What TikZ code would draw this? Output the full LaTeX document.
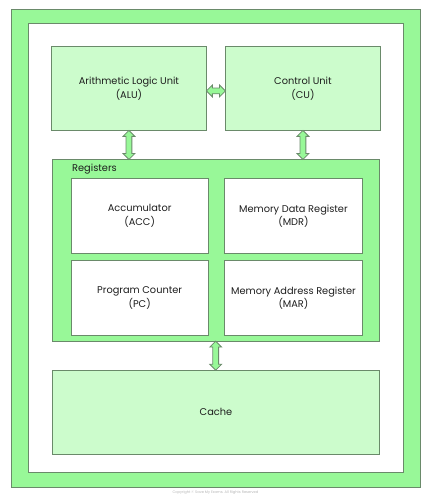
\documentclass[tikz,border=0pt]{standalone}
\usepackage{fontspec}
\setmainfont{Poppins}
\usetikzlibrary{shapes.arrows,calc}
\definecolor{outergreen}{HTML}{98F898}
\definecolor{boxgreen}{HTML}{CCFCCC}
\definecolor{edgec}{HTML}{6A8A6A}
\definecolor{txt}{HTML}{1E1E1E}
\definecolor{wmark}{HTML}{E8ECF2}
\definecolor{copyc}{HTML}{B8B8B8}
\begin{document}
\begin{tikzpicture}[x=1pt,y=-1pt,
  frame/.style={draw=edgec, line width=0.9pt, rectangle, inner sep=0pt, anchor=north west},
  unitbox/.style={frame, fill=boxgreen, text=txt, align=center, font=\fontsize{9.8}{14}\selectfont},
  regbox/.style={frame, fill=white, text=txt, align=center, font=\fontsize{9.8}{13.4}\selectfont},
  dblarrow/.style={double arrow, draw=edgec, fill=outergreen, line width=0.8pt, inner sep=2.5pt,
    minimum width=11pt, double arrow head extend=3pt, double arrow head indent=0pt},
  label/.style={text=txt, font=\fontsize{9.8}{13.4}\selectfont, inner sep=0pt}
]
\useasboundingbox (0,0) rectangle (431,500);
\fill[white] (0,0) rectangle (431,500);

\node[frame, fill=outergreen, minimum width=409pt, minimum height=478pt] (outer) at (11,9) {};
\node[frame, fill=white, minimum width=375pt, minimum height=449pt] (inner) at (28,23) {};

% watermark
\node[text=wmark, font=\fontsize{26}{24}\selectfont, align=left, inner sep=0pt] (wm) at (242,250) {SaveMy\\Exams};

\node[unitbox, minimum width=155pt, minimum height=84pt] (alu) at (51,46) {Arithmetic Logic Unit\\(ALU)};
\node[unitbox, minimum width=155pt, minimum height=84pt] (cu) at (225,46) {Control Unit\\(CU)};

\node[frame, fill=outergreen, minimum width=326.5pt, minimum height=181.7pt] (reg) at (52,159) {};
\node[label, anchor=west] (reglabel) at (72,169) {Registers};

\node[regbox, minimum width=137pt, minimum height=74.4pt] (acc) at (70.7,178.3) {Accumulator\\(ACC)};
\node[regbox, minimum width=137.4pt, minimum height=74.4pt] (mdr) at (224.3,178.3) {Memory Data Register\\(MDR)};
\node[regbox, minimum width=137pt, minimum height=74.7pt] (pc) at (70.7,260.3) {Program Counter\\(PC)};
\node[regbox, minimum width=137.4pt, minimum height=74.7pt] (mar) at (224.3,260.3) {Memory Address Register\\(MAR)};

\node[unitbox, minimum width=326.4pt, minimum height=84pt] (cache) at (52.3,369.7) {Cache};

% connectors
\coordinate (h1) at ($(alu.east)+(0,2.5)$);
\coordinate (h2) at ($(cu.west)+(0,2.5)$);
\node[dblarrow, minimum height=19pt] (a1) at ($(h1)!0.5!(h2)$) {};
\node[dblarrow, minimum height=29pt, rotate=90] (a2) at ($(alu.south)!0.5!(alu.south |- reg.north)$) {};
\node[dblarrow, minimum height=29pt, rotate=90] (a3) at ($(cu.south)!0.5!(cu.south |- reg.north)$) {};
\node[dblarrow, minimum height=29pt, rotate=90] (a4) at ($(reg.south)!0.5!(reg.south |- cache.north)$) {};

\node[text=copyc, font=\fontsize{3.6}{4}\selectfont, inner sep=0pt] (copy) at (215.5,493) {Copyright © Save My Exams. All Rights Reserved};
\end{tikzpicture}
\end{document}
